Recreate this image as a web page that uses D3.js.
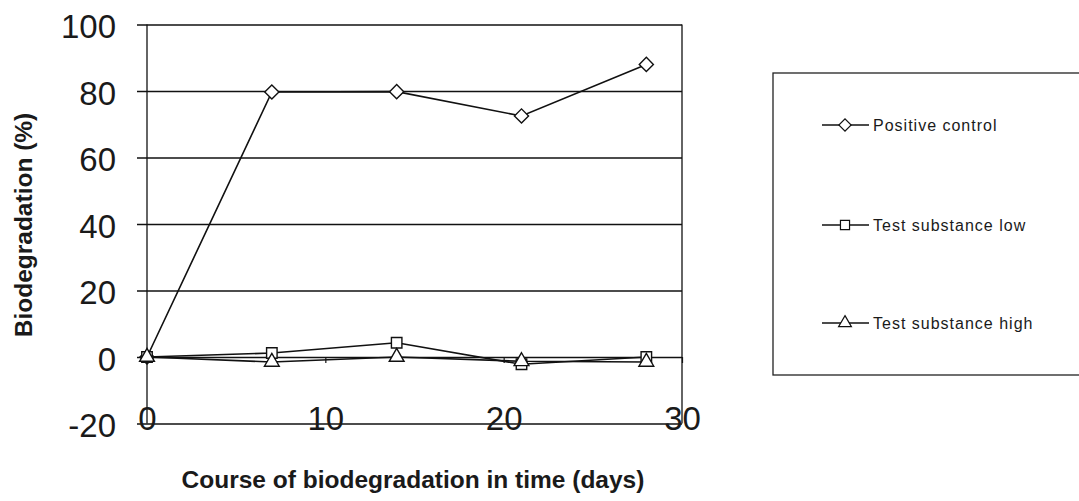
<!DOCTYPE html>
<html>
<head>
<meta charset="utf-8">
<script src="https://cdn.jsdelivr.net/npm/d3@7"></script>
<style>
  body { margin: 0; background: #fff; }
  text { font-family: "Liberation Sans", Arial, sans-serif; fill: #1a1a1a; }
</style>
</head>
<body>
<div id="chart"></div>
<script>
const days = [0, 7, 14, 21, 28];
const positiveControl = [0, 79.7, 79.8, 72.5, 88];
const testLow = [0, 1.2, 4.3, -2.2, 0];
const testHigh = [0, -1.5, 0, -1.3, -1.5];
const seriesNames = ["Positive control", "Test substance low", "Test substance high"];
const yTicks = [-20, 0, 20, 40, 60, 80, 100];
const xTicks = [0, 10, 20, 30];

const width = 1079;
const height = 501;
const plot = { left: 147, right: 682, top: 24.5, bottom: 423.5, gridStart: 137 };

const svg = d3.select("#chart")
    .append("svg")
    .attr("width", width)
    .attr("height", height);

const x = d3.scaleLinear().domain([0, 30]).range([plot.left, plot.right]);
const y = d3.scaleLinear().domain([-20, 100]).range([plot.bottom, plot.top]);

// gridlines + y labels
const yAxis = svg.append("g")
    .attr("transform", `translate(${plot.gridStart},0)`)
    .call(d3.axisLeft(y).tickValues(yTicks).tickFormat(d => String(d))
        .tickSize(-(plot.right - plot.gridStart)).tickPadding(21));
yAxis.select(".domain").remove();
yAxis.selectAll("line").attr("stroke", "#111").attr("stroke-width", 1.3);
yAxis.selectAll("text")
    .attr("dy", "0.4em")
    .style("font-size", "33px")
    .style("fill", "#1a1a1a");

// y axis line and right border
svg.append("line")
    .attr("x1", x(0)).attr("x2", x(0))
    .attr("y1", y(100)).attr("y2", y(-20))
    .attr("stroke", "#111").attr("stroke-width", 1.3);
svg.append("line")
    .attr("x1", x(30)).attr("x2", x(30))
    .attr("y1", y(100)).attr("y2", y(-20))
    .attr("stroke", "#111").attr("stroke-width", 1.3);

// x ticks sit on the zero line
const xTickAxis = svg.append("g")
    .attr("transform", `translate(0,${y(0)})`)
    .call(d3.axisBottom(x).tickValues(xTicks).tickSize(6).tickFormat(""));
xTickAxis.select(".domain").remove();
xTickAxis.selectAll("line").attr("stroke", "#111").attr("stroke-width", 1.2);

// x labels drawn over the -20 gridline
const xLabelAxis = svg.append("g")
    .attr("transform", `translate(0,${y(-20)})`)
    .call(d3.axisBottom(x).tickValues(xTicks).tickFormat(d => String(d)).tickSize(0));
xLabelAxis.select(".domain").remove();
xLabelAxis.selectAll("text")
    .attr("y", -17)
    .style("font-size", "33px")
    .style("fill", "#1a1a1a");

// series
const seriesData = [positiveControl, testLow, testHigh];
const symbols = [d3.symbolSquare, d3.symbolSquare, d3.symbolTriangle];
const symbolSizes = [100, 110, 95];
const symbolRotate = [45, 0, 0];

const line = d3.line()
    .x((d, i) => x(days[i]))
    .y(d => y(d));

seriesData.forEach((vals, s) => {
    svg.append("path")
        .datum(vals)
        .attr("fill", "none")
        .attr("stroke", "#111")
        .attr("stroke-width", 1.6)
        .attr("d", line);
});

seriesData.forEach((vals, s) => {
    svg.selectAll(".m" + s)
        .data(vals)
        .enter()
        .append("path")
        .attr("class", "m" + s)
        .attr("transform", (d, i) => `translate(${x(days[i])},${y(d)}) rotate(${symbolRotate[s]})`)
        .attr("d", d3.symbol().type(symbols[s]).size(symbolSizes[s]))
        .attr("fill", "#fff")
        .attr("stroke", "#111")
        .attr("stroke-width", 1.4);
});

// legend
const legend = svg.append("g");
legend.append("rect")
    .attr("x", 773)
    .attr("y", 73)
    .attr("width", 330)
    .attr("height", 302)
    .attr("fill", "none")
    .attr("stroke", "#222")
    .attr("stroke-width", 1.3);

const legendY = [125, 225, 323];
seriesNames.forEach((name, s) => {
    const g = legend.append("g").attr("transform", `translate(0,${legendY[s]})`);
    g.append("line")
        .attr("x1", 822).attr("x2", 869)
        .attr("stroke", "#111").attr("stroke-width", 1.4);
    g.append("path")
        .attr("transform", `translate(845,0) rotate(${symbolRotate[s]})`)
        .attr("d", d3.symbol().type(symbols[s]).size(symbolSizes[s] * 0.75))
        .attr("fill", "#fff")
        .attr("stroke", "#111")
        .attr("stroke-width", 1.2);
    g.append("text")
        .attr("x", 873)
        .attr("dy", "0.35em")
        .style("font-size", "16px")
        .style("letter-spacing", "1px")
        .text(name);
});

// axis titles
svg.append("text")
    .attr("transform", "rotate(-90)")
    .attr("x", -225)
    .attr("y", 32)
    .attr("text-anchor", "middle")
    .style("font-size", "24.5px")
    .style("font-weight", "bold")
    .text("Biodegradation (%)");

svg.append("text")
    .attr("x", 413)
    .attr("y", 488)
    .attr("text-anchor", "middle")
    .style("font-size", "24.5px")
    .style("font-weight", "bold")
    .text("Course of biodegradation in time (days)");
</script>
</body>
</html>
